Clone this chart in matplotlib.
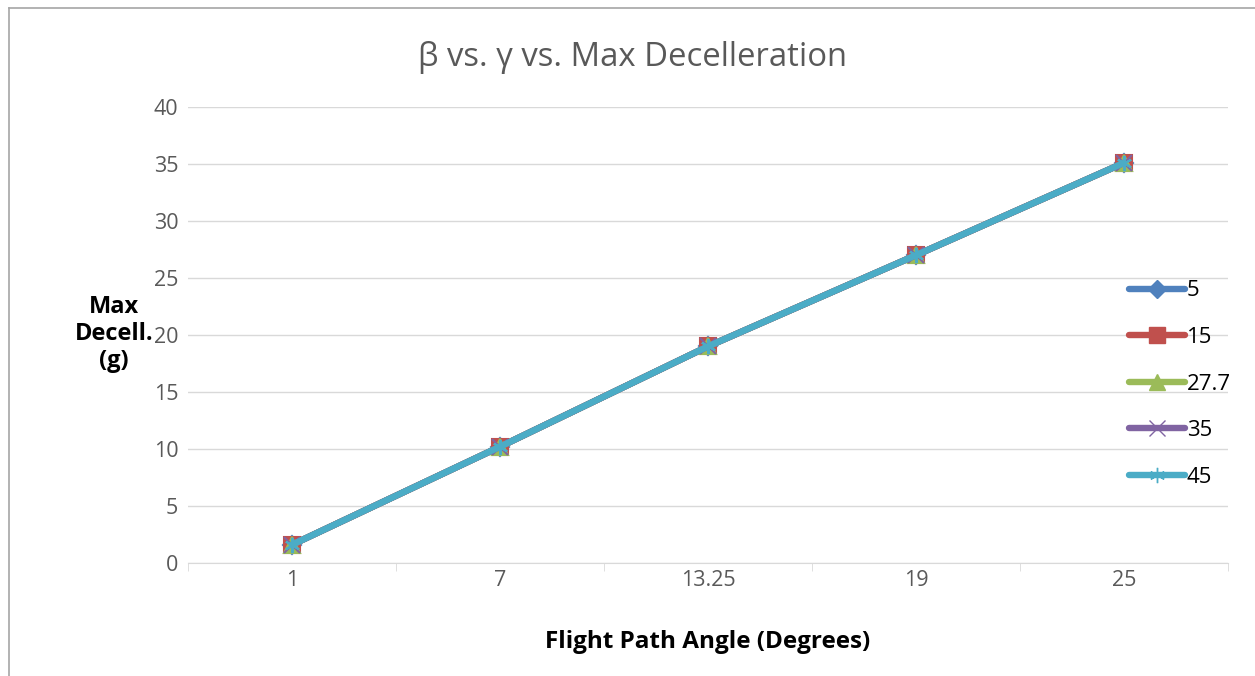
import matplotlib

matplotlib.use('Agg')

import matplotlib.pyplot as plt
from matplotlib.lines import Line2D

plt.rcParams['font.family'] = ['Open Sans', 'DejaVu Sans']

angulos = ['1', '7', '13.25', '19', '25']
betas = ['5', '15', '27.7', '35', '45']
decel_5 = [1.6, 10.2, 19.0, 27.0, 35.1]
decel_15 = [1.6, 10.2, 19.0, 27.0, 35.1]
decel_27 = [1.6, 10.2, 19.0, 27.0, 35.1]
decel_35 = [1.6, 10.2, 19.0, 27.0, 35.1]
decel_45 = [1.6, 10.2, 19.0, 27.0, 35.1]

series = [decel_5, decel_15, decel_27, decel_35, decel_45]
cores = ['#4F81BD', '#C0504D', '#9BBB59', '#8064A2', '#4BACC6']
marcadores = ['D', 's', '^', 'x', (6, 2, 0)]
tamanhos = [9, 12, 11, 11, 11]

fig = plt.figure(figsize=(12.55, 6.76), dpi=100)
ax = fig.add_axes([188 / 1255, 1 - 563 / 676, 1040 / 1255, (563 - 107) / 676])

x = list(range(len(angulos)))
for i in range(len(series)):
    ax.plot(x, series[i], color=cores[i], linewidth=4.6, marker=marcadores[i],
            markersize=tamanhos[i], markerfacecolor=cores[i], markeredgecolor=cores[i],
            markeredgewidth=1.5, solid_capstyle='round', label=betas[i])

ax.set_xlim(-0.5, 4.5)
ax.set_ylim(0, 40)
ax.set_yticks(range(0, 41, 5))
ax.grid(axis='y', color='#d9d9d9', linewidth=1)
ax.set_axisbelow(True)
for s in ['top', 'right', 'left']:
    ax.spines[s].set_visible(False)
ax.spines['bottom'].set_color('#d9d9d9')
ax.tick_params(axis='y', length=0, pad=7, labelsize=15.5, labelcolor='#595959')

ax.set_xticks(x)
ax.set_xticklabels(angulos)
ax.tick_params(axis='x', length=0, pad=5, labelsize=15.5, labelcolor='#595959')
ax.set_xticks([v - 0.5 for v in range(len(angulos) + 1)], minor=True)
ax.tick_params(axis='x', which='minor', length=6, color='#d9d9d9')

ax.set_xlabel('Flight Path Angle (Degrees)', fontsize=17.5, fontweight='bold', labelpad=28)
fig.text(114 / 1255, 1 - 334 / 676, 'Max\nDecell.\n(g)', fontsize=17, fontweight='bold',
         ha='center', va='center', linespacing=1.15)
fig.text(632 / 1255, 1 - 57 / 676, 'β vs. γ vs. Max Decelleration', fontsize=23.7,
         color='#595959', ha='center', va='center')

handles = [Line2D([0], [0], color=cores[i], linewidth=4.6, marker=marcadores[i],
                  markersize=tamanhos[i] * 1.0, markerfacecolor=cores[i],
                  markeredgecolor=cores[i], solid_capstyle='round') for i in range(len(betas))]
ax.legend(handles, betas, loc='center left', bbox_to_anchor=(1118 / 1255, 1 - 384 / 676),
          bbox_transform=fig.transFigure, frameon=False, fontsize=16,
          handlelength=2.5, handletextpad=0.1, labelspacing=1.15, borderpad=0)

# moldura da figura
fig.add_artist(Line2D([9 / 1255, 9 / 1255], [0, 1 - 8 / 676], color='#a6a6a6', linewidth=1.2))
fig.add_artist(Line2D([9 / 1255, 1], [1 - 8 / 676, 1 - 8 / 676], color='#a6a6a6', linewidth=1.2))

plt.savefig('out.png', dpi=100)
